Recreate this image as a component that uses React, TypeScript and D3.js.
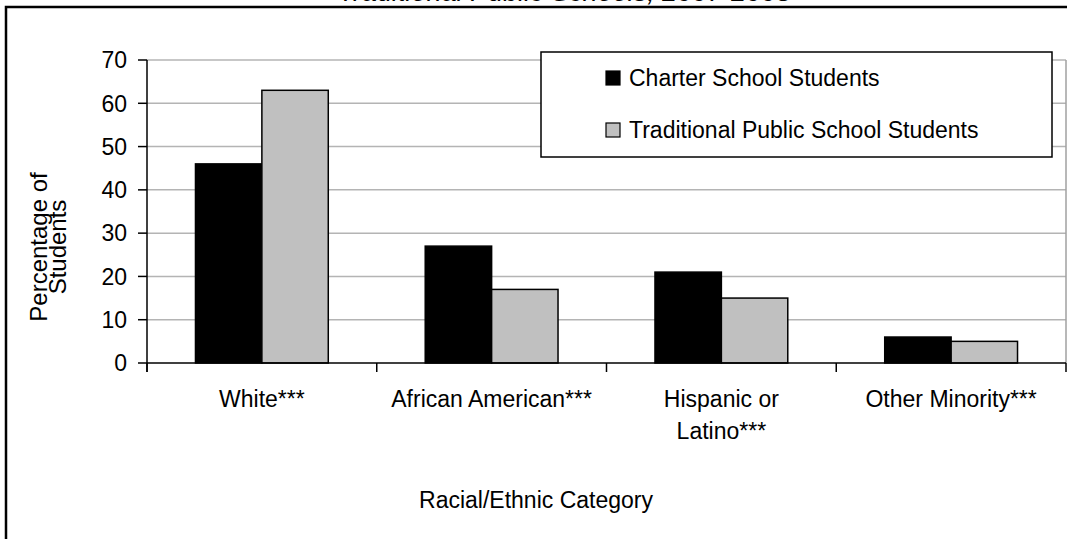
import React from "react";
import * as d3 from "d3";

const categories: string[][] = [
  ["White***"],
  ["African American***"],
  ["Hispanic or", "Latino***"],
  ["Other Minority***"],
];
const seriesNames = ["Charter School Students", "Traditional Public School Students"];
const charterValues = [46, 27, 21, 6];
const traditionalValues = [63, 17, 15, 5];
const yTicks = [0, 10, 20, 30, 40, 50, 60, 70];
const titleText = "Traditional Public Schools, 2007-2008";
const xTitle = "Racial/Ethnic Category";
const yTitle = ["Percentage of", "Students"];

const W = 1067;
const H = 539;
const left = 147;
const right = 1066;
const top = 60;
const bottom = 363;
const FONT = "'Liberation Sans', Arial, sans-serif";
const FS = 23;
const colors = ["#000000", "#c0c0c0"];

export default function App() {
  const x = d3.scaleBand<number>().domain(d3.range(categories.length)).range([left, right]);
  const inner = d3
    .scaleBand<number>()
    .domain([0, 1])
    .range([0, x.bandwidth()])
    .paddingOuter(0.73)
    .paddingInner(0);
  const y = d3.scaleLinear().domain([0, 70]).range([bottom, top]);
  const series = [charterValues, traditionalValues];

  return (
    <svg
      width={W}
      height={H}
      style={{ position: "absolute", left: 0, top: 0, background: "#fff" }}
      fontFamily={FONT}
    >
      <rect x={0} y={0} width={W} height={H} fill="#fff" />
      {/* cut-off title */}
      <text x={565} y={1} textAnchor="middle" fontSize={27} fontStyle="italic" fill="#000">
        {titleText}
      </text>
      {/* outer frame */}
      <rect x={6} y={7} width={W + 20} height={H + 20} fill="none" stroke="#000" strokeWidth={2.5} />

      {/* gridlines */}
      {yTicks.filter((t) => t > 0).map((t) => (
        <line key={t} x1={left} x2={right} y1={y(t)} y2={y(t)} stroke="#b4b4b4" strokeWidth={1.5} />
      ))}
      <line x1={right} x2={right} y1={top} y2={bottom} stroke="#a0a0a0" strokeWidth={1.5} />

      {/* bars */}
      {series.map((vals, si) =>
        vals.map((v, ci) => (
          <rect
            key={`${si}-${ci}`}
            x={(x(ci) as number) + (inner(si) as number)}
            y={y(v)}
            width={inner.bandwidth()}
            height={y(0) - y(v)}
            fill={colors[si]}
            stroke="#000"
            strokeWidth={1.5}
          />
        ))
      )}

      {/* y axis */}
      <line x1={left} x2={left} y1={top} y2={bottom + 9} stroke="#000" strokeWidth={1.5} />
      {yTicks.map((t) => (
        <g key={t}>
          <line x1={left - 9} x2={left} y1={y(t)} y2={y(t)} stroke="#000" strokeWidth={1.5} />
          <text x={127} y={y(t)} dy="0.36em" textAnchor="end" fontSize={FS} fill="#000">
            {t}
          </text>
        </g>
      ))}

      {/* x axis */}
      <line x1={left} x2={right} y1={bottom} y2={bottom} stroke="#000" strokeWidth={1.5} />
      {d3.range(categories.length + 1).map((i) => {
        const xx = i < categories.length ? (x(i) as number) : right;
        return <line key={i} x1={xx} x2={xx} y1={bottom} y2={bottom + 9} stroke="#000" strokeWidth={1.5} />;
      })}
      {categories.map((lines, ci) => (
        <text
          key={ci}
          x={(x(ci) as number) + x.bandwidth() / 2}
          y={407}
          textAnchor="middle"
          fontSize={FS}
          fill="#000"
        >
          {lines.map((l, li) => (
            <tspan key={li} x={(x(ci) as number) + x.bandwidth() / 2} dy={li === 0 ? 0 : 32}>
              {l}
            </tspan>
          ))}
        </text>
      ))}

      {/* axis titles */}
      <text x={536} y={508} textAnchor="middle" fontSize={FS} fill="#000">
        {xTitle}
      </text>
      <text transform={`translate(50,247) rotate(-90)`} textAnchor="middle" fontSize={24} fill="#000">
        {yTitle.map((l, i) => (
          <tspan key={i} x={0} dy={i === 0 ? -3 : 19}>
            {l}
          </tspan>
        ))}
      </text>

      {/* legend */}
      <rect x={541} y={52} width={511} height={105} fill="#fff" stroke="#000" strokeWidth={1.5} />
      {seriesNames.map((name, i) => {
        const cy = 78 + i * 52;
        return (
          <g key={name}>
            <rect x={606} y={cy - 7} width={14} height={14} fill={colors[i]} stroke="#000" strokeWidth={1.2} />
            <text x={629} y={cy} dy="0.36em" fontSize={FS} fill="#000">
              {name}
            </text>
          </g>
        );
      })}
    </svg>
  );
}
